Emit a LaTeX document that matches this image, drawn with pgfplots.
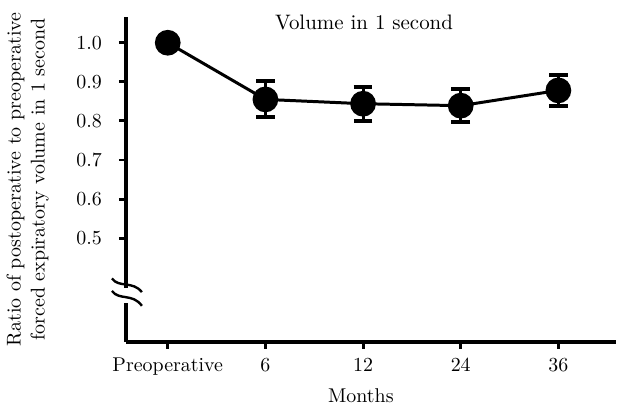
\documentclass[border=0pt]{standalone}
\usepackage{pgfplots}
\pgfplotsset{compat=1.18}
\begin{document}
\begin{tikzpicture}
\begin{axis}[
  scale only axis, width=246pt, height=163pt,
  xmin=-0.43, xmax=4.59, ymin=0.235, ymax=1.066,
  axis x line*=bottom, axis y line*=left,
  axis line style={line width=2pt,-},
  xtick={0,1,2,3,4}, xticklabels={Preoperative,6,12,24,36},
  ytick={0.5,0.6,0.7,0.8,0.9,1.0},
  yticklabel style={xshift=-5pt,/pgf/number format/fixed,/pgf/number format/precision=1,/pgf/number format/fixed zerofill},
  xticklabel style={yshift=-1pt},
  tick align=outside, major tick length=3.5pt,
  tick style={line width=1.5pt,black},
  xlabel={Months}, xlabel style={xshift=-5pt},
  ylabel={Ratio of postoperative to preoperative\\forced expiratory volume in 1 second},
  ylabel style={align=center, yshift=7pt},
  clip=false,
]
\addplot[line width=1.5pt, mark=*, mark size=5.7pt,
  error bars/.cd, y dir=both, y explicit,
  error bar style={line width=1.5pt},
  error mark options={rotate=90, mark size=4.7pt, line width=2pt}]
  coordinates {
  (0,1.0) +- (0,0)
  (1,0.855) +- (0,0.046)
  (2,0.844) +- (0,0.044)
  (3,0.839) +- (0,0.043)
  (4,0.878) +- (0,0.040)
  };
\node[font=\fontsize{10.5}{12}\selectfont] at (axis cs:2.01,1.052) {Volume in 1 second};
\fill[white] (axis cs:-0.50,0.335) rectangle (axis cs:-0.36,0.372);
\draw[line width=1.2pt] (axis cs:-0.571,0.397) .. controls (axis cs:-0.50,0.372) and (axis cs:-0.36,0.392) .. (axis cs:-0.265,0.362);
\draw[line width=1.2pt] (axis cs:-0.571,0.365) .. controls (axis cs:-0.50,0.34) and (axis cs:-0.36,0.36) .. (axis cs:-0.265,0.327);
\end{axis}
\path ([yshift=8.5pt]current axis.north) ([yshift=-35.5pt]current axis.south);
\end{tikzpicture}
\end{document}
